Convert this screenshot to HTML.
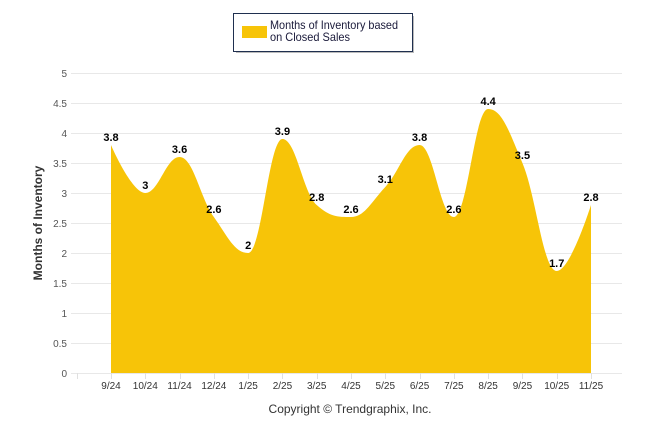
<!DOCTYPE html>
<html><head><meta charset="utf-8"><style>
body{margin:0;background:#fff;}
svg{display:block;font-family:"Liberation Sans",Arial,sans-serif;}
</style></head><body>
<svg id="s" width="646" height="434" xmlns="http://www.w3.org/2000/svg">
<rect x="233.5" y="13.5" width="179" height="38" fill="#fff" stroke="#1f2f4f" stroke-width="1"/>
<line x1="236" y1="52.5" x2="414" y2="52.5" stroke="#bbb"/>
<line x1="413.5" y1="16" x2="413.5" y2="53" stroke="#bbb"/>
<rect x="242" y="26" width="25" height="12" fill="#f7c408"/>
<text x="270" y="29" font-size="12" fill="#1a1a3a" textLength="128" lengthAdjust="spacingAndGlyphs">Months of Inventory based</text>
<text x="270" y="41" font-size="12" fill="#1a1a3a" textLength="80" lengthAdjust="spacingAndGlyphs">on Closed Sales</text>
<g id="grid" stroke="#e8e8e8" stroke-width="1"></g>
<g id="ylab" font-size="10" fill="#555" text-anchor="end"></g>
<path id="area" fill="#f7c408"/>
<g id="ticks" stroke="#e0e0e0"></g>
<g id="xlab" font-size="10" fill="#333" text-anchor="middle"></g>
<g id="dl" font-size="11" font-weight="bold" fill="#000" text-anchor="middle"></g>
<text transform="translate(42,223) rotate(-90)" text-anchor="middle" font-size="12" font-weight="bold" fill="#333">Months of Inventory</text>
<text x="350" y="413" text-anchor="middle" font-size="12" fill="#333">Copyright © Trendgraphix, Inc.</text>
</svg>
<script>
var ns="http://www.w3.org/2000/svg";
function el(p,t,a,txt){var e=document.createElementNS(ns,t);for(var k in a)e.setAttribute(k,a[k]);if(txt!=null)e.textContent=txt;document.getElementById(p).appendChild(e);}
for(var v=0;v<=10;v++){var y=373-30*v;el("grid","line",{x1:71,x2:622,y1:y+0.5,y2:y+0.5});el("ylab","text",{x:67,y:y+4},String(v/2));}
var cats=["9/24","10/24","11/24","12/24","1/25","2/25","3/25","4/25","5/25","6/25","7/25","8/25","9/25","10/25","11/25"];
var d=[3.8,3,3.6,2.6,2,3.9,2.8,2.6,3.1,3.8,2.6,4.4,3.5,1.7,2.8];
var dx=(591-111)/14;
var P=d.map(function(v,i){return {x:111+dx*i,y:373-60*v};});
for(var i=-1;i<=15;i++){var tx=Math.round(111+dx*i)+0.5;if(tx>71&&tx<622)el("ticks","line",{x1:tx,x2:tx,y1:373,y2:379});}
cats.forEach(function(c,i){el("xlab","text",{x:P[i].x,y:389},c);el("dl","text",{x:P[i].x,y:P[i].y-4},String(d[i]));});
var sm=1.5,den=2.5;
for(var i=1;i<P.length-1;i++){var p=P[i],a=P[i-1],b=P[i+1];
var lx=(sm*p.x+a.x)/den,ly=(sm*p.y+a.y)/den,rx=(sm*p.x+b.x)/den,ry=(sm*p.y+b.y)/den;
var c=(ry-ly)*(rx-p.x)/(rx-lx)+p.y-ry;ly+=c;ry+=c;
if(ly>a.y&&ly>p.y){ly=Math.max(a.y,p.y);ry=2*p.y-ly;}else if(ly<a.y&&ly<p.y){ly=Math.min(a.y,p.y);ry=2*p.y-ly;}
if(ry>b.y&&ry>p.y){ry=Math.max(b.y,p.y);ly=2*p.y-ry;}else if(ry<b.y&&ry<p.y){ry=Math.min(b.y,p.y);ly=2*p.y-ry;}
p.lx=lx;p.ly=ly;p.rx=rx;p.ry=ry;}
var s="M"+P[0].x+",373L"+P[0].x+","+P[0].y;
for(var i=1;i<P.length;i++){var a=P[i-1],p=P[i];
var c1x=a.rx!=null?a.rx:a.x,c1y=a.ry!=null?a.ry:a.y,c2x=p.lx!=null?p.lx:p.x,c2y=p.ly!=null?p.ly:p.y;
s+="C"+c1x+","+c1y+" "+c2x+","+c2y+" "+p.x+","+p.y;}
s+="L"+P[14].x+",373Z";
document.getElementById("area").setAttribute("d",s);
</script>
</body></html>
